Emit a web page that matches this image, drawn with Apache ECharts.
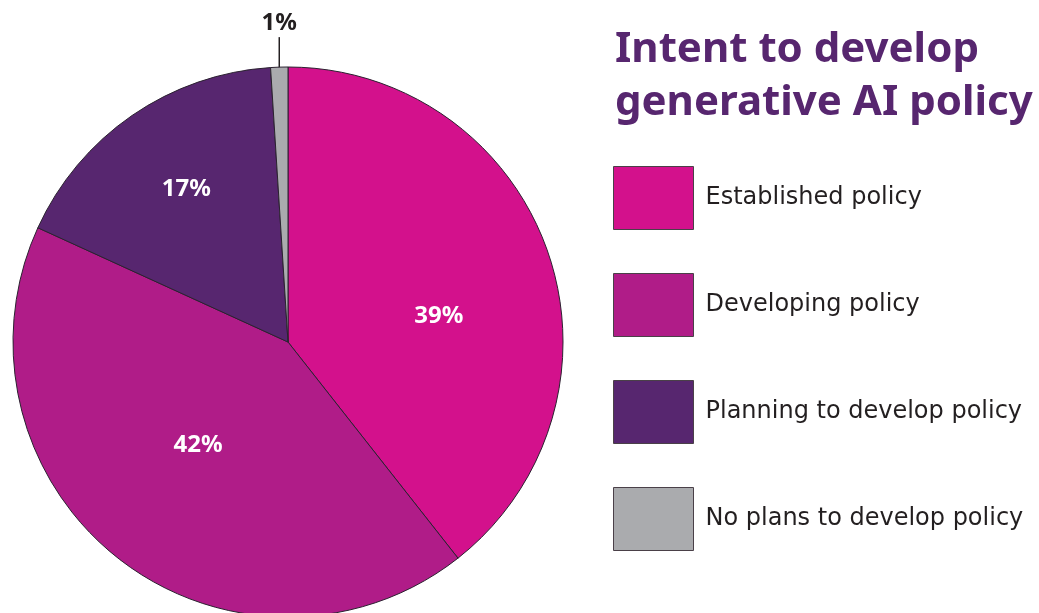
<!DOCTYPE html>
<html>
<head>
<meta charset="utf-8">
<script src="https://cdn.jsdelivr.net/npm/echarts@6/dist/echarts.min.js"></script>
<style>
html,body{margin:0;padding:0;background:#fff;}
#main{width:1039px;height:613px;}
</style>
</head>
<body>
<div id="main"></div>
<script>
const categories = ['Established policy', 'Developing policy', 'Planning to develop policy', 'No plans to develop policy'];
const values = [39, 42, 17, 1];
const colors = ['#D3118C', '#B01C88', '#57266F', '#AAABAE'];
const titleLines = ['Intent to develop', 'generative AI policy'];

const labelShift = [[18, 20], [-3, -7], [-22, -37]];

const chart = echarts.init(document.getElementById('main'), null, {renderer: 'canvas'});
const option = {
  animation: false,
  backgroundColor: '#ffffff',
  title: {
    text: titleLines.join('\n'),
    left: 615,
    top: 24,
    padding: 0,
    textStyle: {
      fontFamily: 'Noto Sans',
      fontWeight: 'bold',
      fontSize: 42,
      lineHeight: 53,
      color: '#57266F'
    }
  },
  legend: {
    orient: 'vertical',
    left: 613,
    top: 166,
    padding: 0,
    itemWidth: 80,
    itemHeight: 63,
    itemGap: 43,
    icon: 'rect',
    selectedMode: false,
    data: categories,
    itemStyle: {borderColor: '#4a4048', borderWidth: 1},
    textStyle: {
      fontFamily: 'DejaVu Sans',
      fontSize: 24,
      color: '#231F20',
      padding: [9, 0, 0, 7]
    }
  },
  series: [{
    type: 'pie',
    center: [288, 342],
    radius: 275,
    startAngle: 90,
    clockwise: true,
    avoidLabelOverlap: false,
    itemStyle: {borderColor: '#2b2230', borderWidth: 1},
    label: {
      show: true,
      position: 'inside',
      formatter: p => p.value + '%',
      color: '#ffffff',
      fontFamily: 'Noto Sans',
      fontWeight: 'bold',
      fontSize: 24
    },
    labelLine: {show: false},
    labelLayout: function (params) {
      const i = params.dataIndex;
      if (i < 3) {
        return {dx: labelShift[i][0], dy: labelShift[i][1]};
      }
      const p0 = params.labelLinePoints[0];
      return {
        x: p0[0],
        y: p0[1] - 32,
        align: 'center',
        verticalAlign: 'bottom',
        labelLinePoints: [[p0[0], p0[1] + 13], [p0[0], p0[1] - 30], [p0[0], p0[1] - 30]]
      };
    },
    data: categories.map((c, i) => {
      const d = {name: c, value: values[i], itemStyle: {color: colors[i]}};
      if (i === 3) {
        d.label = {position: 'outside', color: '#231F20', fontSize: 24};
        d.labelLine = {show: true, length: 20, length2: 0, lineStyle: {color: '#231F20', width: 1.5}};
      }
      return d;
    })
  }]
};
chart.setOption(option);
</script>
</body>
</html>
